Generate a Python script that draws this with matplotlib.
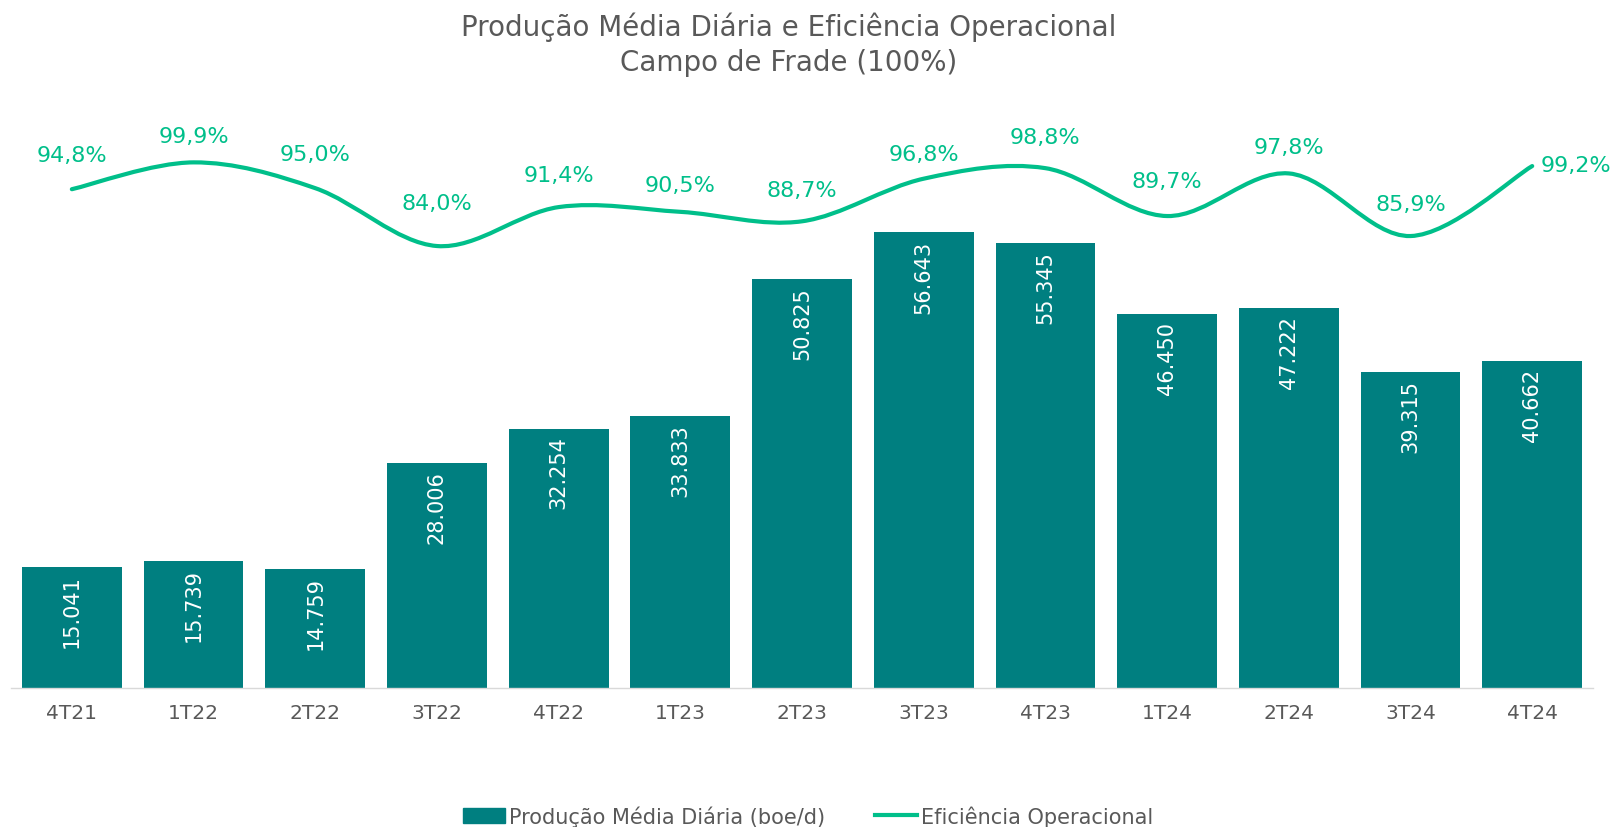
import matplotlib.pyplot as plt
import numpy as np
from matplotlib.path import Path
from matplotlib.patches import PathPatch, Patch
from matplotlib.lines import Line2D

quarters = ['4T21', '1T22', '2T22', '3T22', '4T22', '1T23', '2T23',
            '3T23', '4T23', '1T24', '2T24', '3T24', '4T24']
production = [15041, 15739, 14759, 28006, 32254, 33833, 50825,
              56643, 55345, 46450, 47222, 39315, 40662]
efficiency = [94.8, 99.9, 95.0, 84.0, 91.4, 90.5, 88.7,
              96.8, 98.8, 89.7, 97.8, 85.9, 99.2]

# vertical offset (points) of each efficiency label above its point
LABEL_DY = [24.5, 19, 24.5, 31, 23, 19.5, 22.5, 18, 22.5, 25.5, 19, 23, 1]

BAR_COLOR = '#007F80'
LINE_COLOR = '#00BF8A'
TEXT_COLOR = '#595959'

plt.rcParams['font.family'] = ['DejaVu Sans']


def smooth_path(xs, ys):
    # excel-like smoothed line: catmull-rom converted to bezier segments
    pts = np.column_stack([xs, ys]).astype(float)
    n = len(pts)
    verts = [pts[0]]
    codes = [Path.MOVETO]
    for i in range(n - 1):
        p_prev = pts[i - 1] if i > 0 else pts[i]
        p_next2 = pts[i + 2] if i + 2 < n else pts[i + 1]
        c1 = pts[i] + (pts[i + 1] - p_prev) / 6
        c2 = pts[i + 1] - (p_next2 - pts[i]) / 6
        verts += [c1, c2, pts[i + 1]]
        codes += [Path.CURVE4] * 3
    return Path(verts, codes)


fig = plt.figure(figsize=(16.16, 8.28), dpi=100)
ax = fig.add_axes([0.0068, 0.1679, 0.9790, 0.6799])
ax2 = ax.twinx()

x = np.arange(len(quarters))
ax.bar(x, production, width=0.82, color=BAR_COLOR, zorder=2)
ax.set_xlim(-0.5, len(quarters) - 0.5)
ax.set_ylim(0, 70000)

for xi, v in zip(x, production):
    ax.annotate(f'{v:,}'.replace(',', '.'), (xi, v), xytext=(0, -5),
                textcoords='offset points', rotation=90, ha='center', va='top',
                color='white', fontsize=15)

ax2.set_ylim(0, 107.0)
ax2.add_patch(PathPatch(smooth_path(x, efficiency), fill=False,
                        edgecolor=LINE_COLOR, lw=3, capstyle='round',
                        joinstyle='round', zorder=3))

for i, (xi, v) in enumerate(zip(x, efficiency)):
    label = f'{v:.1f}%'.replace('.', ',')
    if i == len(x) - 1:
        ax2.annotate(label, (xi, v), xytext=(6, LABEL_DY[i]), textcoords='offset points',
                     ha='left', va='center', color=LINE_COLOR, fontsize=16)
    else:
        ax2.annotate(label, (xi, v), xytext=(0, LABEL_DY[i]), textcoords='offset points',
                     ha='center', va='center', color=LINE_COLOR, fontsize=16)

ax.set_xticks(x)
ax.set_xticklabels(quarters, fontsize=14.5, color=TEXT_COLOR)
ax.tick_params(axis='x', length=0, pad=11)
ax.set_yticks([])
ax2.set_yticks([])
for a in (ax, ax2):
    for s in ('top', 'left', 'right', 'bottom'):
        a.spines[s].set_visible(False)
ax.spines['bottom'].set_visible(True)
ax.spines['bottom'].set_color('#D9D9D9')
ax.spines['bottom'].set_linewidth(1)

fig.text(789 / 1616, 1 - 45 / 828,
         'Produção Média Diária e Eficiência Operacional\nCampo de Frade (100%)',
         ha='center', va='center', multialignment='center', fontsize=20,
         color=TEXT_COLOR, linespacing=1.3)

handles = [Patch(color=BAR_COLOR, label='Produção Média Diária (boe/d)'),
           Line2D([], [], color=LINE_COLOR, lw=3, label='Eficiência Operacional')]
leg = fig.legend(handles=handles, loc='center', bbox_to_anchor=(0.5, 1 - 817 / 828),
                 ncol=2, frameon=False, fontsize=15, handlelength=2.0,
                 handletextpad=0.2, columnspacing=2.4)
for t in leg.get_texts():
    t.set_color(TEXT_COLOR)

fig.savefig('out.png', dpi=100)
